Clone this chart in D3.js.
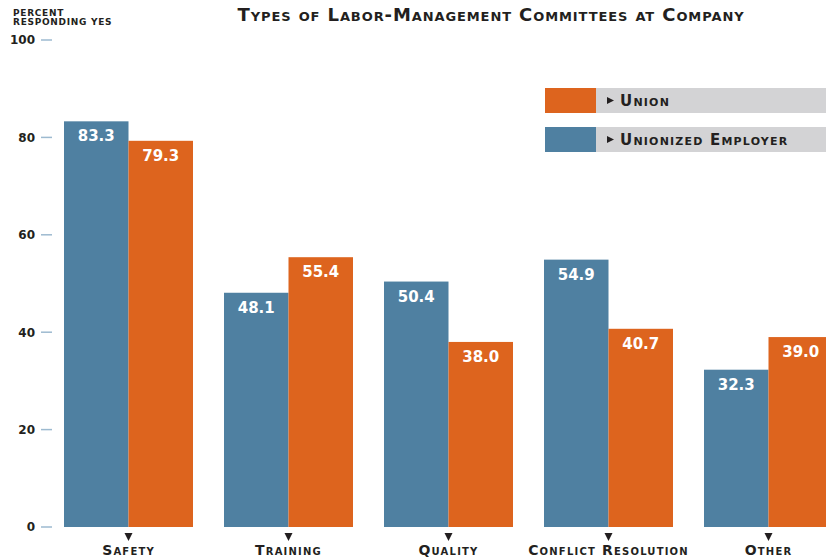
<!DOCTYPE html>
<html>
<head>
<meta charset="utf-8">
<script src="https://cdn.jsdelivr.net/npm/d3@7"></script>
<style>
    body { margin: 0; background: #fff; }
    svg text { font-family: "DejaVu Sans", sans-serif; }
    .sc { font-variant: small-caps; font-weight: bold; fill: #231f20; }
</style>
</head>
<body>
<div id="chart"></div>
<script>
// chart data
var categories = ["Safety", "Training", "Quality", "Conflict Resolution", "Other"];
var seriesNames = ["Unionized Employer", "Union"];
var employerValues = [83.3, 48.1, 50.4, 54.9, 32.3];
var unionValues = [79.3, 55.4, 38.0, 40.7, 39.0];
var yTicks = [0, 20, 40, 60, 80, 100];

var colors = {
    "Unionized Employer" : "#4f80a1",
    "Union" : "#dd641e"
};

var width = 826;
var height = 559;

var svg = d3.select("#chart").append("svg").attr("width", width).attr("height", height);

// scales
var y = d3.scaleLinear().domain([0, 100]).range([527, 40]);
var x0 = d3.scaleBand().domain(categories).range([64, 833]).paddingInner(31 / 160).paddingOuter(0);
var x1 = d3.scaleBand().domain(seriesNames).range([0, x0.bandwidth()]);

// build rows for the bars
var rows = [];
for (var i in categories) {
    rows.push({ "cat" : categories[i], "series" : "Unionized Employer", "value" : employerValues[i] });
    rows.push({ "cat" : categories[i], "series" : "Union", "value" : unionValues[i] });
}

// y axis ticks
var yAxis = svg.append("g").attr("class", "y-axis");
var tick = yAxis.selectAll(".tick").data(yTicks).enter().append("g")
    .attr("transform", function(d) { return "translate(0," + y(d) + ")"; });
tick.append("line").attr("x1", 41).attr("x2", 52).attr("y1", 0).attr("y2", 0)
    .style("stroke", "#9dbad0").style("stroke-width", 1.5);
tick.append("text").attr("x", 35).attr("dy", "0.36em").style("text-anchor", "end")
    .style("font-size", "12px").style("font-weight", "bold").style("fill", "#231f20")
    .text(function(d) { return d; });

// y label
svg.append("text").attr("x", 13).attr("y", 16).style("font-size", "9px").style("font-weight", "bold")
    .style("letter-spacing", "0.7px").style("fill", "#231f20").text("PERCENT");
svg.append("text").attr("x", 13).attr("y", 25).style("font-size", "9px").style("font-weight", "bold")
    .style("letter-spacing", "0.7px").style("fill", "#231f20").text("RESPONDING YES");

// title
svg.append("text").attr("class", "sc").attr("x", 491).attr("y", 21).style("text-anchor", "middle")
    .style("font-size", "18px").style("letter-spacing", "0.9px")
    .text("Types of Labor-Management Committees at Company");

// bars
var bars = svg.selectAll(".bar").data(rows).enter().append("g").attr("class", "bar");
bars.append("rect")
    .attr("x", function(d) { return x0(d.cat) + x1(d.series); })
    .attr("y", function(d) { return y(d.value); })
    .attr("width", x1.bandwidth())
    .attr("height", function(d) { return y(0) - y(d.value); })
    .style("fill", function(d) { return colors[d.series]; });
bars.append("text")
    .attr("x", function(d) { return x0(d.cat) + x1(d.series) + x1.bandwidth() / 2; })
    .attr("y", function(d) { return y(d.value) + 20; })
    .style("text-anchor", "middle").style("font-size", "15px").style("font-weight", "bold")
    .style("fill", "#fff")
    .text(function(d) { return d.value.toFixed(1); });

// category labels with markers
var cats = svg.selectAll(".cat").data(categories).enter().append("g").attr("class", "cat")
    .attr("transform", function(d) { return "translate(" + (x0(d) + x0.bandwidth() / 2) + ",0)"; });
cats.append("path").attr("d", "M-4,533 L4,533 L0,541 Z").style("fill", "#231f20");
cats.append("text").attr("class", "sc").attr("y", 555).style("text-anchor", "middle")
    .style("font-size", "14px").style("letter-spacing", "1.2px").text(function(d) { return d; });

// legend
var legendOrder = ["Union", "Unionized Employer"];
var legend = svg.selectAll(".legend").data(legendOrder).enter().append("g").attr("class", "legend")
    .attr("transform", function(d, i) { return "translate(545," + (88 + i * 39) + ")"; });
legend.append("rect").attr("x", 51).attr("width", 230).attr("height", 25).style("fill", "#d3d3d5");
legend.append("rect").attr("width", 51).attr("height", 25).style("fill", function(d) { return colors[d]; });
legend.append("path").attr("d", "M62,9 L69,12.5 L62,16 Z").style("fill", "#231f20");
legend.append("text").attr("class", "sc").attr("x", 75).attr("y", 18).style("font-size", "15px")
    .style("letter-spacing", "1.2px").text(function(d) { return d; });
</script>
</body>
</html>
